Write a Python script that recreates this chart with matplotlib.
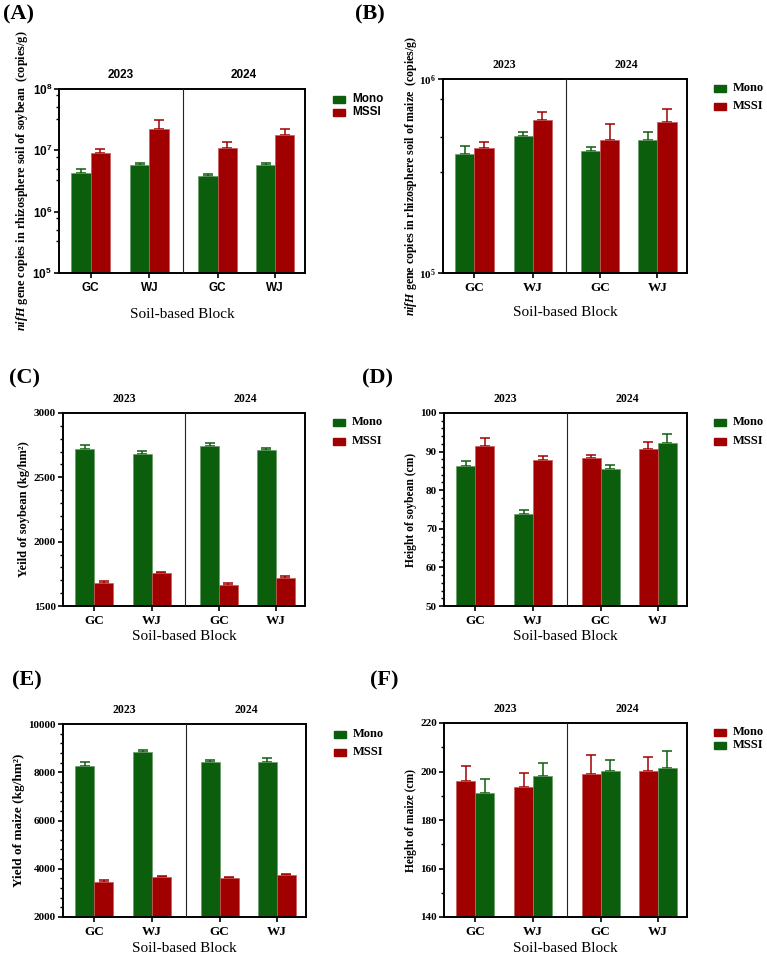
import numpy as np
import matplotlib
matplotlib.use('Agg')
import matplotlib.pyplot as plt
from matplotlib.patches import Rectangle
from matplotlib.ticker import FixedLocator, MultipleLocator, LogLocator, NullFormatter, FuncFormatter

SERIF = 'Liberation Serif'
SANS = 'Liberation Sans'
plt.rcParams['mathtext.fontset'] = 'custom'
plt.rcParams['mathtext.rm'] = SERIF
plt.rcParams['mathtext.it'] = SERIF + ':italic'
plt.rcParams['mathtext.bf'] = SERIF + ':bold'
plt.rcParams['mathtext.bfit'] = SERIF + ':italic:bold'
plt.rcParams['mathtext.sf'] = SANS + ':bold'

GREEN = '#0b5e0b'
RED = '#a00000'

# ---- data ----
blocks = ['GC', 'WJ', 'GC', 'WJ']
years = ['2023', '2024']

# (A) nifH copies, soybean
a_mono = [4.3e6, 5.7e6, 3.8e6, 5.7e6]
a_mono_err = [0.6e6, 0.4e6, 0.3e6, 0.4e6]
a_mssi = [9.2e6, 2.26e7, 1.1e7, 1.76e7]
a_mssi_err = [1.2e6, 0.84e7, 0.29e7, 0.47e7]

# (B) nifH copies, maize
b_mono = [4.13e5, 5.06e5, 4.25e5, 4.84e5]
b_mono_err = [0.36e5, 0.29e5, 0.19e5, 0.49e5]
b_mssi = [4.42e5, 6.17e5, 4.86e5, 6.0e5]
b_mssi_err = [0.29e5, 0.56e5, 0.98e5, 1.0e5]

# (C) yield of soybean
c_mono = [2717, 2681, 2740, 2712]
c_mono_err = [31, 21, 24, 18]
c_mssi = [1679, 1754, 1663, 1718]
c_mssi_err = [16, 13, 16, 13]

# (D) height of soybean
d_mono = [86.2, 73.8, 85.4, 92.1]
d_mono_err = [1.3, 1.1, 1.1, 2.5]
d_mssi = [91.5, 87.8, 88.4, 90.6]
d_mssi_err = [1.9, 1.1, 0.6, 2.0]

# (E) yield of maize
e_mono = [8274, 8827, 8426, 8426]
e_mono_err = [152, 83, 83, 152]
e_mssi = [3465, 3658, 3631, 3741]
e_mssi_err = [83, 56, 41, 56]

# (F) height of maize
f_mono = [196.1, 193.7, 199.0, 200.1]
f_mono_err = [6.0, 5.8, 7.9, 6.0]
f_mssi = [191.3, 198.3, 200.1, 201.4]
f_mssi_err = [5.7, 5.1, 4.8, 7.1]

# layout on the x axis (bar width = 1)
x_centers = [1.65, 4.7, 8.25, 11.25]
x_divider = 6.47
x_max = 12.8
year_x = [3.23, 9.63]

W, H = 767, 957
fig = plt.figure(figsize=(W / 100, H / 100), dpi=100)


def rect(l, r, t, b):
    return [l / W, 1 - b / H, (r - l) / W, (b - t) / H]


def panel(box, mono, mono_err, mssi, mssi_err, mono_left, mono_col, mssi_col,
          font, cat_fs, year_fs):
    ax = fig.add_axes(box)
    for i, c in enumerate(x_centers):
        if mono_left[i]:
            xm, xs = c - 0.5, c + 0.5
        else:
            xm, xs = c + 0.5, c - 0.5
        for x, v, e, col in [(xm, mono[i], mono_err[i], mono_col), (xs, mssi[i], mssi_err[i], mssi_col)]:
            ax.bar(x, v, width=1.0, color=col, edgecolor='#6a9a6a' if col == GREEN else '#c85a5a',
                   linewidth=0.5, zorder=2)
            ax.errorbar(x, v, yerr=[[0], [e]], fmt='none', ecolor=col, elinewidth=1.1,
                        capsize=3.6, capthick=1.1, zorder=1)
    ax.set_xlim(0, x_max)
    ax.axvline(x_divider, color='#222222', lw=0.8, zorder=3)
    for s in ax.spines.values():
        s.set_linewidth(1.4)
    ax.set_xticks(x_centers)
    ax.set_xticklabels(blocks, fontfamily=font, fontweight='bold', fontsize=cat_fs)
    ax.tick_params(axis='x', length=3.5, width=1.2, pad=3)
    ax.tick_params(axis='y', which='major', length=3.5, width=1.2, pad=1.5)
    ax.tick_params(axis='y', which='minor', length=2.0, width=1.0)
    for yx, yr in zip(year_x, years):
        ax.annotate(yr, xy=(yx, 1), xycoords=('data', 'axes fraction'), xytext=(0, 10),
                    textcoords='offset points', ha='center', va='center',
                    fontfamily=font, fontweight='bold', fontsize=year_fs)
    return ax


def yticks_font(ax, font, fs):
    for t in ax.get_yticklabels():
        t.set_fontfamily(font)
        t.set_fontweight('bold')
        t.set_fontsize(fs)


def ylabel(ax, text, off_px, fs):
    ax.annotate(text, xy=(0, 0.5), xycoords='axes fraction', xytext=(-off_px * 0.72, 0),
                textcoords='offset points', rotation=90, ha='center', va='center',
                fontfamily=SERIF, fontweight='bold', fontsize=fs)


def xlabel(ax, off_px):
    ax.annotate('Soil-based Block', xy=(0.5, 0), xycoords='axes fraction',
                xytext=(0, -off_px * 0.72), textcoords='offset points', ha='center', va='center',
                fontfamily=SERIF, fontsize=11)


def legend(x, ys, colors, font, fs):
    for y, col, lab in zip(ys, colors, ['Mono', 'MSSI']):
        fig.add_artist(Rectangle((x / W, 1 - (y + 3.5) / H), 12 / W, 7 / H,
                                 transform=fig.transFigure, color=col))
        fig.text((x + 19) / W, 1 - y / H, lab, ha='left', va='center',
                 fontfamily=font, fontweight='bold', fontsize=fs)


def plabel(x, y, s):
    fig.text(x / W, 1 - y / H, s, ha='left', va='top', fontfamily=SERIF,
             fontweight='bold', fontsize=16)


both = [True] * 4
log_subs = (3.3, 5.0, 7.9)

# (A)
ax = panel(rect(59, 305, 89, 273), a_mono, a_mono_err, a_mssi, a_mssi_err, both, GREEN, RED,
           SANS, 8.5, 8.5)
ax.set_yscale('log')
ax.set_ylim(1e5, 1e8)
ax.yaxis.set_major_locator(FixedLocator([1e5, 1e6, 1e7, 1e8]))
ax.yaxis.set_major_formatter(FuncFormatter(lambda v, p: r'$\mathsf{10^{%d}}$' % round(np.log10(v))))
ax.yaxis.set_minor_locator(LogLocator(base=10, subs=log_subs))
ax.yaxis.set_minor_formatter(NullFormatter())
yticks_font(ax, SANS, 8.5)
ylabel(ax, r'$\mathbfit{nifH}$ gene copies in rhizosphere soil of soybean  (copies/g)', 37, 8.8)
xlabel(ax, 42)
legend(333, [99, 112], [GREEN, RED], SANS, 8.5)
plabel(3, 4, '(A)')

# (B)
ax = panel(rect(443, 687, 79, 273), b_mono, b_mono_err, b_mssi, b_mssi_err, both, GREEN, RED,
           SERIF, 9.5, 8.5)
ax.set_yscale('log')
ax.set_ylim(1e5, 1e6)
ax.yaxis.set_major_locator(FixedLocator([1e5, 1e6]))
ax.yaxis.set_major_formatter(FuncFormatter(lambda v, p: r'$\mathbf{10^{%d}}$' % round(np.log10(v))))
ax.yaxis.set_minor_locator(LogLocator(base=10, subs=log_subs))
ax.yaxis.set_minor_formatter(NullFormatter())
yticks_font(ax, SERIF, 8)
ylabel(ax, r'$\mathbfit{nifH}$ gene copies in rhizosphere soil of maize  (copies/g)', 32, 8.6)
xlabel(ax, 40)
legend(714, [88, 106], [GREEN, RED], SERIF, 9)
plabel(355, 4, '(B)')

# (C)
ax = panel(rect(63, 305, 413, 606), c_mono, c_mono_err, c_mssi, c_mssi_err, both, GREEN, RED,
           SERIF, 9.5, 8.5)
ax.set_ylim(1500, 3000)
ax.yaxis.set_major_locator(MultipleLocator(500))
ax.yaxis.set_minor_locator(MultipleLocator(100))
yticks_font(ax, SERIF, 8)
ylabel(ax, 'Yeild of soybean (kg/hm²)', 39, 9)
xlabel(ax, 31)
legend(333, [422, 441], [GREEN, RED], SERIF, 9)
plabel(9, 368, '(C)')

# (D) -- in 2024 the MSSI bar is drawn on the left
ax = panel(rect(444, 687, 413, 606), d_mono, d_mono_err, d_mssi, d_mssi_err,
           [True, True, False, False], GREEN, RED, SERIF, 9.5, 8.5)
ax.set_ylim(50, 100)
ax.yaxis.set_major_locator(MultipleLocator(10))
ax.yaxis.set_minor_locator(MultipleLocator(2))
yticks_font(ax, SERIF, 8)
ylabel(ax, 'Height of soybean (cm)', 33, 8.4)
xlabel(ax, 31)
legend(714, [422, 441], [GREEN, RED], SERIF, 9)
plabel(362, 368, '(D)')

# (E)
ax = panel(rect(63, 306, 724, 917), e_mono, e_mono_err, e_mssi, e_mssi_err, both, GREEN, RED,
           SERIF, 9.5, 8.5)
ax.set_ylim(2000, 10000)
ax.yaxis.set_major_locator(MultipleLocator(2000))
ax.yaxis.set_minor_locator(MultipleLocator(400))
yticks_font(ax, SERIF, 8)
ylabel(ax, 'Yield of maize (kg/hm²)', 44, 9.5)
xlabel(ax, 32)
legend(334, [734, 752], [GREEN, RED], SERIF, 9)
plabel(12, 670, '(E)')

# (F) -- Mono shown in red, MSSI in green
ax = panel(rect(444, 687, 723, 917), f_mono, f_mono_err, f_mssi, f_mssi_err, both, RED, GREEN,
           SERIF, 9.5, 8.5)
ax.set_ylim(140, 220)
ax.yaxis.set_major_locator(MultipleLocator(20))
ax.yaxis.set_minor_locator(MultipleLocator(10))
yticks_font(ax, SERIF, 8)
ylabel(ax, 'Height of maize (cm)', 33, 8.4)
xlabel(ax, 32)
legend(714, [732, 745], [RED, GREEN], SERIF, 9)
plabel(370, 670, '(F)')

fig.savefig('out.png', dpi=100, facecolor='white')
